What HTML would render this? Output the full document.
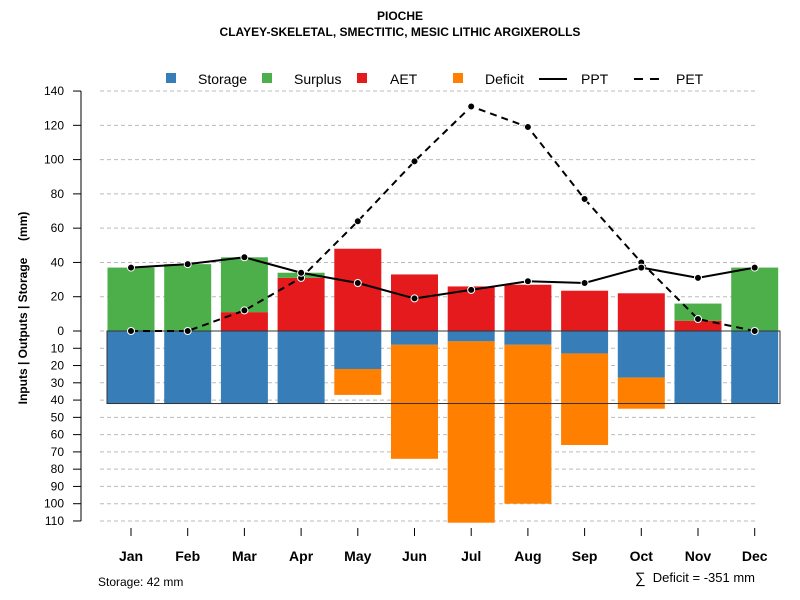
<!DOCTYPE html>
<html><head><meta charset="utf-8"><style>
body{margin:0;background:#fff}
svg{display:block;font-family:"Liberation Sans",sans-serif}
</style></head><body>
<svg id="chart" width="800" height="600">
<text x="400" y="20" text-anchor="middle" font-size="12" font-weight="bold">PIOCHE</text>
<text x="400" y="36" text-anchor="middle" font-size="12" font-weight="bold">CLAYEY-SKELETAL, SMECTITIC, MESIC LITHIC ARGIXEROLLS</text>
<text transform="translate(27,308) rotate(-90)" text-anchor="middle" font-size="12" font-weight="bold" style="white-space:pre">Inputs | Outputs | Storage     (mm)</text>
<text x="98" y="586" font-size="12">Storage: 42 mm</text>
<text x="635" y="583" font-size="15">∑</text>
<text x="755" y="582" text-anchor="end" font-size="13">Deficit = -351 mm</text>
</svg>
<script>
const months=["Jan","Feb","Mar","Apr","May","Jun","Jul","Aug","Sep","Oct","Nov","Dec"];
const aet=[0,0,11,31,48,33,26,27,23.5,22,6,0];
const surplus=[37,39,32,3,0,0,0,0,0,0,10,37];
const storage=[42,42,42,42,22,8,6,8,13,27,42,42];
const deficit=[0,0,0,0,15,66,105,92,53,18,0,0];
const ppt=[37,39,43,34,28,19,24,29,28,37,31,37];
const pet=[0,0,12,31,64,99,131,119,77,40,7,0];
const topTicks=[0,20,40,60,80,100,120,140];
const botTicks=[10,20,30,40,50,60,70,80,90,100,110];
const storageCap=42;

const NS="http://www.w3.org/2000/svg";
const svg=document.getElementById('chart');
function el(t,a,p){const e=document.createElementNS(NS,t);for(const k in a)e.setAttribute(k,a[k]);(p||svg).appendChild(e);return e;}
const x=i=>131+i*56.7;
const yUp=v=>331-v*1.714;
const yDn=v=>331+v*1.727;
const bw=47;
let e;
e=el('line',{x1:81,x2:81,y1:yUp(140),y2:yDn(110),stroke:'#000'});


function tick(y,label){
  let g=el('line',{x1:100,x2:755,y1:y,y2:y,stroke:'#bbb','stroke-dasharray':'4,3'});
  
  
  el('line',{x1:73,x2:81,y1:y,y2:y,stroke:'#000'});
  let t=el('text',{x:64,y:y+4,'text-anchor':'end','font-size':12});t.textContent=label;
  
  
}
topTicks.forEach(v=>tick(yUp(v),v));
botTicks.forEach(v=>tick(yDn(v),v));
months.forEach((m,i)=>{
  const l=x(i)-bw/2;
  let r;
  if(aet[i]>0){r=el('rect',{x:l,y:yUp(aet[i]),width:bw,height:yUp(0)-yUp(aet[i]),fill:'#E41A1C'});
    
    }
  if(surplus[i]>0){r=el('rect',{x:l,y:yUp(aet[i]+surplus[i]),width:bw,height:yUp(aet[i])-yUp(aet[i]+surplus[i]),fill:'#4DAF4A'});
    
    }
  r=el('rect',{x:l,y:yDn(0),width:bw,height:yDn(storage[i])-yDn(0),fill:'#377EB8'});
  
  
  if(deficit[i]>0){r=el('rect',{x:l,y:yDn(storage[i]),width:bw,height:yDn(storage[i]+deficit[i])-yDn(storage[i]),fill:'#FF7F00'});
    
    }
  el('line',{x1:x(i),x2:x(i),y1:528,y2:536,stroke:'#000'});
  let t=el('text',{x:x(i),y:561,'text-anchor':'middle','font-size':14,'font-weight':'bold'});t.textContent=m;
  
  
});
e=el('rect',{x:107,y:yDn(0),width:673,height:yDn(storageCap)-yDn(0),fill:'none',stroke:'#333','stroke-width':1});


function series(arr,dash,name){
  const p=el('polyline',{points:arr.map((v,i)=>x(i)+','+yUp(v)).join(' '),fill:'none',stroke:'#000','stroke-width':2,'stroke-dasharray':dash});
  
  
  arr.forEach((v,i)=>{const c=el('circle',{cx:x(i),cy:yUp(v),r:3.5,fill:'#000',stroke:'#fff','stroke-width':1});
    
    });
}
series(pet,'7,5','pet');
series(ppt,'none','ppt');
const leg=[["Storage","#377EB8",166,198],["Surplus","#4DAF4A",262,294],["AET","#E41A1C",357,390],["Deficit","#FF7F00",453,485]];
leg.forEach(([n,c,rx,tx])=>{
  const r=el('rect',{x:rx,y:73,width:10,height:10,fill:c});
  
  
  const t=el('text',{x:tx,y:84,'font-size':14});t.textContent=n;
  
  
});
el('line',{x1:539,x2:567,y1:79,y2:79,stroke:'#000','stroke-width':2});
let t1=el('text',{x:581,y:84,'font-size':14});t1.textContent='PPT';


el('line',{x1:634,x2:659,y1:79,y2:79,stroke:'#000','stroke-width':2,'stroke-dasharray':'9,7'});
let t2=el('text',{x:676,y:84,'font-size':14});t2.textContent='PET';


</script>
</body></html>
